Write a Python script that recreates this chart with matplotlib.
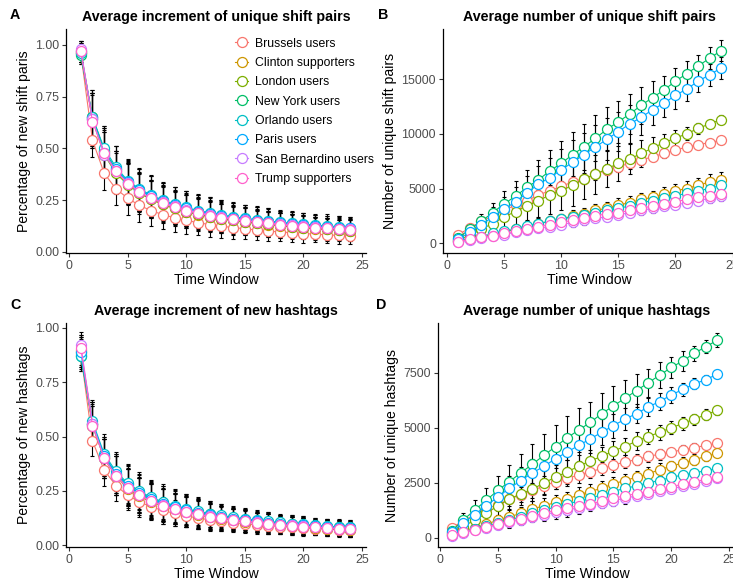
import matplotlib
matplotlib.use('Agg')
import matplotlib.pyplot as plt
from matplotlib.lines import Line2D
from matplotlib.ticker import FormatStrFormatter

plt.rcParams['font.family'] = ['Liberation Sans', 'DejaVu Sans']

groups = ['Brussels users', 'Clinton supporters', 'London users', 'New York users',
          'Orlando users', 'Paris users', 'San Bernardino users', 'Trump supporters']
colors = ['#F8766D', '#CD9600', '#7CAE00', '#00BE67', '#00BFC4', '#00A9FF', '#C77CFF', '#FF61CC']
windows = list(range(1, 25))

# A: average increment of unique shift pairs (one row per group)
shift_inc = [
    [0.96, 0.54, 0.38, 0.305, 0.26, 0.225, 0.20, 0.18, 0.165, 0.152, 0.142, 0.132, 0.124, 0.118, 0.112, 0.106, 0.101, 0.097, 0.093, 0.089, 0.086, 0.083, 0.080, 0.078],
    [0.97, 0.65, 0.49, 0.39, 0.33, 0.285, 0.255, 0.23, 0.21, 0.195, 0.18, 0.17, 0.16, 0.152, 0.145, 0.138, 0.132, 0.127, 0.122, 0.117, 0.113, 0.109, 0.105, 0.102],
    [0.96, 0.64, 0.47, 0.38, 0.325, 0.285, 0.255, 0.23, 0.21, 0.195, 0.182, 0.17, 0.16, 0.152, 0.145, 0.14, 0.134, 0.128, 0.123, 0.118, 0.114, 0.110, 0.106, 0.103],
    [0.95, 0.65, 0.49, 0.40, 0.34, 0.30, 0.27, 0.245, 0.225, 0.21, 0.195, 0.183, 0.173, 0.165, 0.157, 0.15, 0.144, 0.138, 0.133, 0.128, 0.124, 0.12, 0.116, 0.113],
    [0.96, 0.65, 0.50, 0.41, 0.345, 0.305, 0.275, 0.25, 0.23, 0.215, 0.20, 0.19, 0.18, 0.17, 0.163, 0.156, 0.15, 0.144, 0.139, 0.134, 0.13, 0.126, 0.122, 0.118],
    [0.97, 0.64, 0.48, 0.40, 0.34, 0.30, 0.27, 0.245, 0.225, 0.21, 0.195, 0.185, 0.175, 0.166, 0.158, 0.151, 0.145, 0.139, 0.134, 0.129, 0.125, 0.121, 0.117, 0.114],
    [0.98, 0.64, 0.47, 0.39, 0.335, 0.29, 0.26, 0.24, 0.22, 0.205, 0.19, 0.18, 0.17, 0.161, 0.153, 0.146, 0.14, 0.134, 0.129, 0.124, 0.12, 0.116, 0.112, 0.109],
    [0.97, 0.63, 0.48, 0.39, 0.33, 0.29, 0.26, 0.235, 0.215, 0.2, 0.187, 0.176, 0.166, 0.158, 0.15, 0.144, 0.138, 0.132, 0.127, 0.122, 0.118, 0.114, 0.11, 0.107],
]
shift_inc_err = [
    [0.04, 0.08, 0.08, 0.08, 0.08, 0.08, 0.075, 0.07, 0.07, 0.065, 0.06, 0.06, 0.055, 0.055, 0.05, 0.05, 0.05, 0.045, 0.045, 0.045, 0.04, 0.04, 0.04, 0.04],
    [0.04, 0.12, 0.11, 0.10, 0.10, 0.09, 0.09, 0.085, 0.08, 0.08, 0.075, 0.07, 0.07, 0.065, 0.065, 0.06, 0.06, 0.06, 0.055, 0.055, 0.05, 0.05, 0.05, 0.05],
    [0.05, 0.13, 0.11, 0.10, 0.10, 0.10, 0.09, 0.09, 0.085, 0.08, 0.08, 0.075, 0.07, 0.07, 0.065, 0.065, 0.06, 0.06, 0.06, 0.055, 0.055, 0.055, 0.05, 0.05],
    [0.04, 0.13, 0.12, 0.11, 0.11, 0.10, 0.10, 0.09, 0.09, 0.085, 0.08, 0.08, 0.075, 0.07, 0.07, 0.065, 0.065, 0.06, 0.06, 0.06, 0.055, 0.055, 0.055, 0.055],
    [0.04, 0.12, 0.11, 0.10, 0.10, 0.10, 0.09, 0.09, 0.085, 0.08, 0.08, 0.075, 0.07, 0.07, 0.065, 0.065, 0.06, 0.06, 0.06, 0.055, 0.055, 0.055, 0.05, 0.05],
    [0.05, 0.14, 0.12, 0.11, 0.10, 0.10, 0.095, 0.09, 0.09, 0.085, 0.08, 0.08, 0.075, 0.07, 0.07, 0.065, 0.065, 0.06, 0.06, 0.06, 0.055, 0.055, 0.055, 0.05],
    [0.04, 0.13, 0.11, 0.10, 0.10, 0.09, 0.09, 0.085, 0.08, 0.08, 0.075, 0.07, 0.07, 0.065, 0.065, 0.06, 0.06, 0.06, 0.055, 0.055, 0.05, 0.05, 0.05, 0.05],
    [0.05, 0.13, 0.11, 0.10, 0.10, 0.09, 0.09, 0.085, 0.08, 0.08, 0.075, 0.07, 0.07, 0.065, 0.065, 0.06, 0.06, 0.055, 0.055, 0.055, 0.05, 0.05, 0.05, 0.05],
]

# B: average number of unique shift pairs
shift_num = [
    [800, 1400, 2000, 2500, 3000, 3500, 3900, 4400, 4800, 5200, 5600, 5900, 6300, 6700, 7000, 7300, 7600, 7900, 8200, 8500, 8800, 9000, 9200, 9400],
    [200, 400, 600, 800, 1000, 1300, 1500, 1800, 2000, 2200, 2500, 2700, 3000, 3200, 3500, 3700, 4000, 4200, 4500, 4800, 5000, 5300, 5600, 5800],
    [300, 700, 1300, 1800, 2400, 2900, 3400, 3900, 4400, 4800, 5300, 5900, 6300, 6800, 7300, 7700, 8200, 8700, 9200, 9600, 10000, 10500, 10900, 11300],
    [500, 1300, 2000, 2800, 3600, 4300, 5100, 5800, 6600, 7300, 8100, 8800, 9600, 10400, 11100, 11800, 12600, 13300, 14000, 14800, 15500, 16200, 16900, 17600],
    [200, 400, 600, 900, 1100, 1300, 1600, 1800, 2000, 2200, 2400, 2600, 2800, 3000, 3200, 3400, 3700, 3900, 4100, 4300, 4600, 4800, 5000, 5300],
    [400, 1000, 1700, 2400, 3100, 3800, 4600, 5400, 6000, 6700, 7400, 8100, 8800, 9500, 10200, 10900, 11500, 12200, 12800, 13500, 14100, 14800, 15400, 16000],
    [100, 300, 500, 650, 800, 1000, 1200, 1400, 1500, 1700, 1900, 2100, 2300, 2400, 2600, 2800, 3000, 3200, 3400, 3500, 3700, 3900, 4100, 4300],
    [150, 350, 550, 700, 900, 1100, 1300, 1500, 1700, 1900, 2100, 2300, 2500, 2700, 2800, 3000, 3200, 3400, 3600, 3800, 4000, 4200, 4300, 4500],
]
shift_num_err = [
    [100, 200, 300, 400, 400, 500, 500, 500, 500, 500, 500, 500, 500, 500, 500, 500, 450, 400, 400, 350, 300, 300, 250, 250],
    [100, 150, 250, 300, 400, 400, 500, 500, 500, 500, 550, 550, 600, 600, 600, 600, 600, 600, 600, 600, 650, 650, 700, 700],
    [150, 300, 500, 700, 900, 1100, 1300, 1500, 1700, 1800, 1900, 1900, 1800, 1700, 1600, 1400, 1200, 1000, 800, 700, 600, 500, 400, 400],
    [200, 400, 700, 900, 1200, 1400, 1600, 1800, 1900, 2000, 2100, 2100, 2100, 2000, 1900, 1800, 1700, 1500, 1300, 1200, 1100, 1000, 1000, 1000],
    [100, 150, 200, 250, 300, 350, 400, 400, 450, 450, 450, 450, 450, 450, 450, 450, 450, 450, 450, 450, 450, 450, 450, 450],
    [200, 400, 600, 900, 1100, 1300, 1500, 1700, 1800, 1900, 2000, 2000, 2000, 1900, 1800, 1700, 1600, 1400, 1300, 1200, 1100, 1000, 1000, 1000],
    [80, 150, 200, 250, 300, 350, 350, 400, 400, 400, 400, 400, 400, 400, 400, 400, 400, 400, 400, 400, 400, 400, 400, 400],
    [80, 150, 200, 250, 300, 350, 350, 400, 400, 400, 400, 400, 400, 400, 400, 400, 400, 400, 400, 400, 400, 400, 400, 400],
]

# C: average increment of new hashtags
tag_inc = [
    [0.88, 0.48, 0.345, 0.275, 0.23, 0.20, 0.177, 0.16, 0.147, 0.135, 0.125, 0.117, 0.11, 0.104, 0.099, 0.094, 0.09, 0.086, 0.083, 0.08, 0.077, 0.074, 0.072, 0.07],
    [0.90, 0.56, 0.40, 0.32, 0.26, 0.225, 0.20, 0.18, 0.165, 0.152, 0.14, 0.13, 0.122, 0.115, 0.108, 0.102, 0.097, 0.092, 0.088, 0.084, 0.08, 0.077, 0.074, 0.071],
    [0.89, 0.55, 0.40, 0.32, 0.27, 0.235, 0.207, 0.187, 0.171, 0.158, 0.146, 0.136, 0.128, 0.12, 0.113, 0.107, 0.102, 0.097, 0.093, 0.089, 0.085, 0.082, 0.079, 0.076],
    [0.87, 0.56, 0.41, 0.33, 0.28, 0.245, 0.215, 0.195, 0.178, 0.164, 0.152, 0.142, 0.133, 0.125, 0.118, 0.112, 0.106, 0.101, 0.097, 0.093, 0.089, 0.085, 0.082, 0.079],
    [0.87, 0.57, 0.42, 0.34, 0.285, 0.25, 0.22, 0.2, 0.183, 0.168, 0.156, 0.146, 0.137, 0.129, 0.122, 0.116, 0.11, 0.105, 0.1, 0.096, 0.092, 0.088, 0.085, 0.082],
    [0.89, 0.56, 0.41, 0.33, 0.275, 0.24, 0.212, 0.192, 0.175, 0.161, 0.149, 0.139, 0.13, 0.123, 0.116, 0.11, 0.104, 0.099, 0.095, 0.091, 0.087, 0.084, 0.081, 0.078],
    [0.92, 0.56, 0.40, 0.32, 0.265, 0.23, 0.205, 0.185, 0.168, 0.155, 0.143, 0.133, 0.125, 0.118, 0.111, 0.105, 0.1, 0.095, 0.091, 0.087, 0.083, 0.08, 0.077, 0.074],
    [0.91, 0.55, 0.40, 0.32, 0.265, 0.23, 0.203, 0.183, 0.167, 0.153, 0.142, 0.132, 0.124, 0.117, 0.11, 0.104, 0.099, 0.094, 0.09, 0.086, 0.082, 0.079, 0.076, 0.073],
]
tag_inc_err = [
    [0.07, 0.07, 0.07, 0.07, 0.07, 0.07, 0.06, 0.06, 0.06, 0.05, 0.05, 0.05, 0.045, 0.045, 0.04, 0.04, 0.04, 0.035, 0.035, 0.035, 0.03, 0.03, 0.03, 0.03],
    [0.07, 0.10, 0.09, 0.09, 0.09, 0.085, 0.08, 0.08, 0.075, 0.07, 0.065, 0.06, 0.055, 0.05, 0.05, 0.045, 0.045, 0.04, 0.04, 0.04, 0.035, 0.035, 0.035, 0.035],
    [0.07, 0.09, 0.09, 0.09, 0.085, 0.08, 0.08, 0.075, 0.07, 0.07, 0.065, 0.06, 0.055, 0.05, 0.05, 0.045, 0.045, 0.04, 0.04, 0.04, 0.035, 0.035, 0.035, 0.035],
    [0.07, 0.10, 0.09, 0.09, 0.09, 0.085, 0.08, 0.08, 0.075, 0.07, 0.065, 0.06, 0.055, 0.05, 0.05, 0.045, 0.045, 0.04, 0.04, 0.04, 0.035, 0.035, 0.035, 0.035],
    [0.07, 0.10, 0.09, 0.09, 0.09, 0.085, 0.08, 0.08, 0.075, 0.07, 0.065, 0.06, 0.055, 0.05, 0.05, 0.045, 0.045, 0.04, 0.04, 0.04, 0.035, 0.035, 0.035, 0.035],
    [0.07, 0.10, 0.09, 0.09, 0.09, 0.085, 0.08, 0.08, 0.075, 0.07, 0.065, 0.06, 0.055, 0.05, 0.05, 0.045, 0.045, 0.04, 0.04, 0.04, 0.035, 0.035, 0.035, 0.035],
    [0.06, 0.09, 0.09, 0.09, 0.085, 0.08, 0.08, 0.075, 0.07, 0.07, 0.065, 0.06, 0.055, 0.05, 0.05, 0.045, 0.045, 0.04, 0.04, 0.04, 0.035, 0.035, 0.035, 0.035],
    [0.06, 0.09, 0.09, 0.09, 0.085, 0.08, 0.08, 0.075, 0.07, 0.07, 0.065, 0.06, 0.055, 0.05, 0.05, 0.045, 0.045, 0.04, 0.04, 0.04, 0.035, 0.035, 0.035, 0.035],
]

# D: average number of unique hashtags
tag_num = [
    [450, 750, 1050, 1300, 1500, 1750, 1950, 2150, 2350, 2550, 2700, 2850, 3000, 3150, 3300, 3450, 3550, 3700, 3800, 3900, 4000, 4100, 4200, 4300],
    [150, 300, 450, 600, 800, 950, 1100, 1300, 1450, 1600, 1750, 1950, 2100, 2250, 2450, 2600, 2750, 2900, 3100, 3250, 3400, 3550, 3700, 3850],
    [200, 500, 800, 1100, 1450, 1750, 2000, 2200, 2500, 2750, 3000, 3250, 3500, 3700, 3950, 4150, 4400, 4600, 4800, 5000, 5200, 5400, 5600, 5800],
    [300, 800, 1250, 1700, 2150, 2550, 2950, 3350, 3750, 4150, 4550, 4900, 5250, 5650, 6000, 6350, 6700, 7050, 7400, 7750, 8050, 8400, 8700, 9000],
    [100, 250, 400, 550, 650, 800, 950, 1100, 1250, 1400, 1550, 1650, 1800, 1950, 2100, 2250, 2350, 2500, 2600, 2750, 2850, 2950, 3050, 3150],
    [250, 650, 1050, 1450, 1850, 2250, 2600, 2950, 3250, 3600, 3900, 4200, 4500, 4800, 5100, 5400, 5650, 5950, 6200, 6500, 6750, 7000, 7200, 7450],
    [80, 220, 340, 460, 580, 700, 820, 940, 1040, 1160, 1260, 1360, 1470, 1580, 1680, 1800, 1900, 2000, 2120, 2220, 2340, 2450, 2580, 2700],
    [100, 250, 350, 500, 600, 750, 850, 1000, 1100, 1250, 1350, 1450, 1550, 1650, 1800, 1900, 2000, 2100, 2200, 2300, 2450, 2550, 2650, 2750],
]
tag_num_err = [
    [100, 150, 200, 250, 300, 300, 350, 350, 350, 350, 350, 350, 300, 300, 300, 300, 250, 250, 250, 200, 200, 200, 150, 150],
    [80, 120, 160, 200, 250, 300, 300, 350, 350, 350, 350, 350, 350, 350, 300, 300, 300, 300, 300, 250, 250, 250, 200, 200],
    [100, 200, 300, 350, 400, 450, 500, 550, 550, 550, 550, 500, 500, 450, 450, 400, 400, 350, 350, 300, 300, 250, 250, 200],
    [150, 300, 450, 550, 650, 750, 850, 900, 950, 1000, 1000, 1000, 950, 950, 900, 850, 750, 650, 600, 500, 450, 350, 300, 300],
    [60, 100, 150, 200, 250, 250, 300, 300, 300, 300, 300, 300, 300, 250, 250, 250, 250, 200, 200, 200, 200, 150, 150, 150],
    [100, 200, 300, 400, 500, 550, 600, 650, 700, 700, 700, 700, 650, 600, 550, 500, 450, 400, 400, 350, 300, 250, 200, 200],
    [60, 100, 150, 200, 200, 250, 250, 250, 300, 300, 300, 300, 250, 250, 250, 250, 200, 200, 200, 200, 150, 150, 150, 150],
    [60, 100, 150, 200, 200, 250, 250, 250, 300, 300, 300, 300, 250, 250, 250, 250, 200, 200, 200, 200, 150, 150, 150, 150],
]

W, H = 733, 581
fig = plt.figure(figsize=(W / 100, H / 100), dpi=100)


def px_axes(left, top, right, bottom):
    return fig.add_axes([left / W, 1 - bottom / H, (right - left) / W, (bottom - top) / H])


def draw(ax, means, errs, title, ylabel, xlim, ylim, yticks, fmt=None):
    for m, e in zip(means, errs):
        ax.errorbar(windows, m, yerr=e, fmt='none', ecolor='black', elinewidth=0.8,
                    capsize=1.4, capthick=0.8, zorder=1)
    for m, c in zip(means, colors):
        ax.plot(windows, m, color=c, lw=0.8, marker='o', ms=7.2, mfc='white',
                mec=c, mew=0.9, zorder=2)
    ax.set_xlim(*xlim)
    ax.set_ylim(*ylim)
    ax.set_xticks([0, 5, 10, 15, 20, 25])
    ax.set_yticks(yticks)
    if fmt:
        ax.yaxis.set_major_formatter(FormatStrFormatter(fmt))
    for s in ['top', 'right']:
        ax.spines[s].set_visible(False)
    for s in ['left', 'bottom']:
        ax.spines[s].set_linewidth(0.9)
    ax.tick_params(length=3, width=0.8, color='#333333', labelsize=8.9,
                   labelcolor='#4D4D4D', pad=2)
    ax.set_title(title, fontsize=10.3, fontweight='bold', pad=6)
    ax.set_xlabel('Time Window', fontsize=10.1, labelpad=1)
    ax.set_ylabel(ylabel, fontsize=10.1, labelpad=3)


axA = px_axes(66, 29, 366, 253)
draw(axA, shift_inc, shift_inc_err, 'Average increment of unique shift pairs',
     'Percentage of new shift paris', (-0.26, 25.34), (-0.005, 1.077),
     [0, 0.25, 0.5, 0.75, 1.0], '%.2f')

axB = px_axes(443, 29, 736, 253)
draw(axB, shift_num, shift_num_err, 'Average number of unique shift pairs',
     'Number of unique shift pairs', (-0.35, 25.3), (-886, 19565),
     [0, 5000, 10000, 15000])

axC = px_axes(66, 323, 366, 547)
draw(axC, tag_inc, tag_inc_err, 'Average increment of new hashtags',
     'Percentage of new hashtags', (-0.26, 25.34), (-0.008, 1.023),
     [0, 0.25, 0.5, 0.75, 1.0], '%.2f')

axD = px_axes(438, 323, 736, 547)
draw(axD, tag_num, tag_num_err, 'Average number of unique hashtags',
     'Number of unique hashtags', (-0.17, 25.6), (-428, 9777),
     [0, 2500, 5000, 7500])

handles = [Line2D([0], [0], color=c, lw=0.8, marker='o', ms=7.2, mfc='white', mec=c, mew=0.9)
           for c in colors]
axA.legend(handles, groups, loc='upper left', bbox_to_anchor=(0.563, 0.962), frameon=False,
           fontsize=8.8, handlelength=1.1, handletextpad=0.55, labelspacing=0.6,
           borderpad=0, borderaxespad=0)

for lab, x, y in [('A', 10, 15), ('B', 378, 15), ('C', 10, 305), ('D', 376, 305)]:
    fig.text(x / W, 1 - y / H, lab, fontsize=10.3, fontweight='bold', va='center', ha='left')

fig.savefig('out.png', dpi=100)
